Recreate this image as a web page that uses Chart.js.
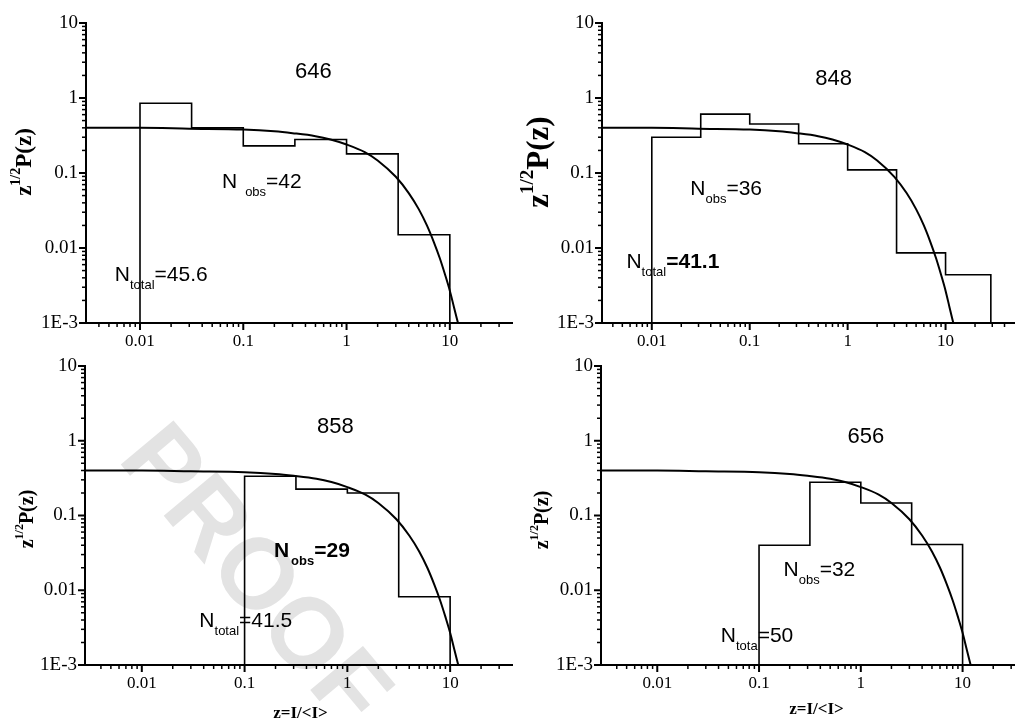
<!DOCTYPE html>
<html>
<head>
<meta charset="utf-8">
<title>z^1/2 P(z) histograms</title>
<script src="https://cdn.jsdelivr.net/npm/chart.js@4.4.1/dist/chart.umd.min.js"></script>
<style>
  html, body { margin: 0; padding: 0; background: #fff; }
  #wrap { position: relative; width: 1022px; height: 719px; overflow: hidden; }
  #wrap canvas { position: absolute; }
</style>
</head>
<body>
<div id="wrap"></div>
<script>
// axis range and tick labels
const yMin = 0.001;
const yMax = 10;
const yTickValues = [0.001, 0.01, 0.1, 1, 10];
const yTickLabels = ["1E-3", "0.01", "0.1", "1", "10"];
const xTickValues = [0.01, 0.1, 1, 10];
const xTickLabels = ["0.01", "0.1", "1", "10"];

// smooth curve (same in all four panels)
const curveZ = [0.0028, 0.01, 0.03, 0.1, 0.2, 0.3, 0.5, 0.7, 1, 1.5, 2, 3, 4, 5, 6, 7, 8, 9, 10, 11, 12];
const curveY = [0.40, 0.40, 0.39, 0.38, 0.36, 0.34, 0.31, 0.28, 0.24, 0.19, 0.147, 0.089, 0.054, 0.033, 0.020, 0.012, 0.0073, 0.0044, 0.0027, 0.0016, 0.001];

// histograms: bin edges and bin heights
const edges646 = [0.01, 0.0316, 0.1, 0.316, 1, 3.16, 10];
const hist646 = [0.85, 0.40, 0.23, 0.28, 0.18, 0.015];
const edges848 = [0.01, 0.0316, 0.1, 0.316, 1, 3.16, 10, 29];
const hist848 = [0.30, 0.61, 0.45, 0.245, 0.11, 0.0086, 0.0044];
const edges858 = [0.1, 0.316, 1, 3.16, 10];
const hist858 = [0.335, 0.225, 0.20, 0.0082];
const edges656 = [0.1, 0.316, 1, 3.16, 10];
const hist656 = [0.040, 0.278, 0.147, 0.041];

const SANS = "'Liberation Sans', Arial, sans-serif";
const SERIF = "'Liberation Serif', 'Times New Roman', serif";

const panels = [
  {
    left: 0, top: 0, width: 520, height: 360, padTop: 23, padRight: 5, yWidth: 86, xHeight: 37,
    xMin: 0.003, xMax: 40, edges: edges646, hist: hist646,
    tag: { text: "646", x: 0.478, y: 2.22 },
    notes: [
      { x: 0.0622, y: 0.0759, main: "N", sub: "obs", rest: "=42", gap: 8 },
      { x: 0.0057, y: 0.00437, main: "N", sub: "total", rest: "=45.6", gap: 0 }
    ],
    yTitle: { dx: -61, dy: 139, size: 23 }
  },
  {
    left: 511, top: 0, width: 511, height: 360, padTop: 23, padRight: 0, yWidth: 91, xHeight: 37,
    xMin: 0.0031, xMax: 50, edges: edges848, hist: hist848,
    tag: { text: "848", x: 0.718, y: 1.79 },
    notes: [
      { x: 0.0247, y: 0.0612, main: "N", sub: "obs", rest: "=36", gap: 0 },
      { x: 0.00551, y: 0.0065, main: "N", sub: "total", rest: "=41.1", gap: 0, boldRest: true }
    ],
    yTitle: { dx: -62, dy: 139, size: 31 }
  },
  {
    left: 0, top: 340, width: 520, height: 379, padTop: 26, padRight: 5, yWidth: 85, xHeight: 54,
    xMin: 0.0028, xMax: 40, edges: edges858, hist: hist858,
    tag: { text: "858", x: 0.766, y: 1.54 },
    notes: [
      { x: 0.193, y: 0.0331, main: "N", sub: "obs", rest: "=29", gap: 2, bold: true },
      { x: 0.0363, y: 0.00386, main: "N", sub: "total", rest: "=41.5", gap: 0 }
    ],
    yTitle: { dx: -57, dy: 153, size: 20 },
    xTitle: { dx: 2, dy: 49 },
    watermark: true
  },
  {
    left: 511, top: 340, width: 511, height: 379, padTop: 26, padRight: 0, yWidth: 90, xHeight: 54,
    xMin: 0.0028, xMax: 32, edges: edges656, hist: hist656,
    tag: { text: "656", x: 1.12, y: 1.13 },
    notes: [
      { x: 0.174, y: 0.0185, main: "N", sub: "obs", rest: "=32", gap: 0 },
      { x: 0.0421, y: 0.00244, main: "N", sub: "tota", rest: "=50", gap: 0 }
    ],
    yTitle: { dx: -58, dy: 154, size: 20 },
    xTitle: { dx: 9, dy: 45 }
  }
];

function labelFor(values, labels, v) {
  const i = values.findIndex(t => Math.abs(v / t - 1) < 1e-6);
  return i < 0 ? "" : labels[i];
}

function mantissa(v) {
  return v / Math.pow(10, Math.floor(Math.log10(v) + 1e-9));
}

// histogram outline from the bin edges, closed down to the axis floor
function stepPoints(edges, heights) {
  const pts = [{ x: edges[0], y: yMin }];
  heights.forEach((h, i) => pts.push({ x: edges[i], y: h }));
  pts.push({ x: edges[edges.length - 1], y: yMin });
  return pts;
}

// short minor / long major tick marks pointing outwards
const tickMarks = {
  id: "tickMarks",
  afterDraw(chart) {
    const ctx = chart.ctx;
    const area = chart.chartArea;
    const xs = chart.scales.x;
    const ys = chart.scales.y;
    ctx.save();
    ctx.strokeStyle = "#000";
    xs.ticks.forEach(t => {
      if (t.value <= xs.min || t.value >= xs.max) return;
      const m = mantissa(t.value);
      if (Math.abs(m - Math.round(m)) > 1e-6) return;
      const major = Math.abs(m - 1) < 1e-6 || Math.abs(m - 10) < 1e-6;
      const px = xs.getPixelForValue(t.value);
      ctx.lineWidth = major ? 2 : 1.5;
      ctx.beginPath();
      ctx.moveTo(px, area.bottom);
      ctx.lineTo(px, area.bottom + (major ? 7 : 4));
      ctx.stroke();
    });
    ys.ticks.forEach(t => {
      if (t.value < ys.min || t.value > ys.max) return;
      const m = mantissa(t.value);
      if (Math.abs(m - Math.round(m)) > 1e-6) return;
      const major = Math.abs(m - 1) < 1e-6 || Math.abs(m - 10) < 1e-6;
      const py = ys.getPixelForValue(t.value);
      ctx.lineWidth = major ? 2 : 1.5;
      ctx.beginPath();
      ctx.moveTo(area.left, py);
      ctx.lineTo(area.left - (major ? 7 : 4), py);
      ctx.stroke();
    });
    ctx.restore();
  }
};

function makeTextPlugin(p) {
  return {
    id: "panelText",
    beforeDraw(chart) {
      if (!p.watermark) return;
      const ctx = chart.ctx;
      ctx.save();
      ctx.translate(252 - p.left, 578 - p.top);
      ctx.rotate(50 * Math.PI / 180);
      ctx.font = "bold 100px " + SANS;
      ctx.fillStyle = "#e3e3e3";
      ctx.textAlign = "center";
      ctx.textBaseline = "middle";
      ctx.fillText("PROOF", 0, 0);
      ctx.restore();
    },
    afterDraw(chart) {
      const ctx = chart.ctx;
      const area = chart.chartArea;
      const xs = chart.scales.x;
      const ys = chart.scales.y;
      ctx.save();
      ctx.fillStyle = "#000";
      ctx.textBaseline = "middle";

      // panel tag
      ctx.font = "22px " + SANS;
      ctx.textAlign = "center";
      ctx.fillText(p.tag.text, xs.getPixelForValue(p.tag.x), ys.getPixelForValue(p.tag.y));

      // N_obs / N_total notes
      ctx.textAlign = "left";
      p.notes.forEach(n => {
        let x = xs.getPixelForValue(n.x);
        const y = ys.getPixelForValue(n.y);
        const w = n.bold ? "bold " : "";
        ctx.font = w + "21px " + SANS;
        ctx.fillText(n.main, x, y);
        x += ctx.measureText(n.main).width + n.gap;
        ctx.font = w + "13px " + SANS;
        ctx.fillText(n.sub, x, y + 10);
        x += ctx.measureText(n.sub).width;
        ctx.font = (n.bold || n.boldRest ? "bold " : "") + "21px " + SANS;
        ctx.fillText(n.rest, x, y);
      });

      // y title z^{1/2}P(z)
      const s = p.yTitle.size;
      const parts = [
        { t: "z", size: s, dy: 0 },
        { t: "1/2", size: Math.round(s * 0.6), dy: -s * 0.38 },
        { t: "P(z)", size: s, dy: 0 }
      ];
      let total = 0;
      parts.forEach(q => { ctx.font = "bold " + q.size + "px " + SERIF; q.w = ctx.measureText(q.t).width; total += q.w; });
      ctx.translate(area.left + p.yTitle.dx, area.top + p.yTitle.dy);
      ctx.rotate(-Math.PI / 2);
      let cx = -total / 2;
      parts.forEach(q => {
        ctx.font = "bold " + q.size + "px " + SERIF;
        ctx.fillText(q.t, cx, q.dy);
        cx += q.w;
      });
      ctx.restore();

      if (p.xTitle) {
        ctx.save();
        ctx.fillStyle = "#000";
        ctx.font = "bold 17px " + SERIF;
        ctx.textAlign = "center";
        ctx.textBaseline = "middle";
        ctx.fillText("z=I/<I>", (area.left + area.right) / 2 + p.xTitle.dx, area.bottom + p.xTitle.dy);
        ctx.restore();
      }
    }
  };
}

const wrap = document.getElementById("wrap");

panels.forEach(p => {
  const canvas = document.createElement("canvas");
  canvas.width = p.width;
  canvas.height = p.height;
  canvas.style.left = p.left + "px";
  canvas.style.top = p.top + "px";
  canvas.style.width = p.width + "px";
  canvas.style.height = p.height + "px";
  wrap.appendChild(canvas);

  new Chart(canvas.getContext("2d"), {
    type: "line",
    data: {
      datasets: [
        {
          label: "histogram",
          data: stepPoints(p.edges, p.hist),
          stepped: "before",
          borderColor: "#000",
          borderWidth: 1.6,
          pointRadius: 0,
          fill: false
        },
        {
          label: "curve",
          data: curveZ.map((z, i) => ({ x: z, y: curveY[i] })),
          cubicInterpolationMode: "monotone",
          borderColor: "#000",
          borderWidth: 2,
          pointRadius: 0,
          fill: false
        }
      ]
    },
    options: {
      responsive: false,
      animation: false,
      events: [],
      layout: { padding: { top: p.padTop, right: p.padRight, left: 0, bottom: 0 } },
      plugins: {
        legend: { display: false },
        tooltip: { enabled: false }
      },
      scales: {
        x: {
          type: "logarithmic",
          position: "bottom",
          min: p.xMin,
          max: p.xMax,
          grid: { display: false, drawTicks: false },
          border: { display: true, color: "#000", width: 2 },
          ticks: {
            autoSkip: false,
            maxRotation: 0,
            padding: 8,
            color: "#000",
            font: { family: SERIF, size: 17 },
            callback: v => labelFor(xTickValues, xTickLabels, v)
          },
          afterFit: s => { s.height = p.xHeight; }
        },
        y: {
          type: "logarithmic",
          position: "left",
          min: yMin,
          max: yMax,
          grid: { display: false, drawTicks: false },
          border: { display: true, color: "#000", width: 2 },
          ticks: {
            autoSkip: false,
            padding: 8,
            color: "#000",
            font: { family: SERIF, size: 19 },
            callback: v => labelFor(yTickValues, yTickLabels, v)
          },
          afterFit: s => { s.width = p.yWidth; }
        }
      }
    },
    plugins: [tickMarks, makeTextPlugin(p)]
  });
});
</script>
</body>
</html>
